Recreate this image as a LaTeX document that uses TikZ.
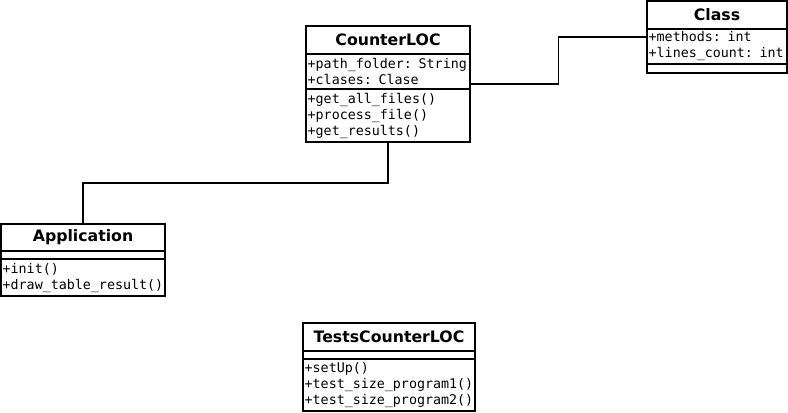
\documentclass[tikz,border=0pt]{standalone}
\usepackage{fontspec}
\setmainfont{DejaVu Sans}
\setmonofont{DejaVu Sans Mono}
\usetikzlibrary{calc}

\tikzset{
  classframe/.style={anchor=north west, inner sep=0pt, outer sep=0pt},
  classpart/.style={draw, line width=1.5pt, anchor=north west, inner sep=0pt, outer sep=0pt},
  classname/.style={classpart, font=\bfseries\fontsize{11.8}{14}\selectfont},
  members/.style={classpart, font=\ttfamily\fontsize{10}{12}\selectfont, align=left, inner xsep=1.25pt},
  link/.style={draw, line width=1.2pt},
}

\begin{document}
\begin{tikzpicture}[x=0.75pt, y=-0.75pt]
\fill[white] (0,0) rectangle (788,412);
\useasboundingbox (0,0) rectangle (788,412);

% CounterLOC
\node[classframe, minimum width=123pt, minimum height=87pt] (counter) at (306,26) {};
\node[classname, minimum width=123pt, minimum height=21pt] (counter-name) at (counter.north west) {CounterLOC};
\node[members, text width=120.5pt, minimum height=26.25pt] (counter-attr) at (counter-name.south west) {+path\_folder: String\\+clases: Clase};
\node[members, text width=120.5pt, minimum height=39.75pt] (counter-meth) at (counter-attr.south west) {+get\_all\_files()\\+process\_file()\\+get\_results()};

% Class
\node[classframe, minimum width=105pt, minimum height=54pt] (class) at (647,1) {};
\node[classname, minimum width=105pt, minimum height=21pt] (class-name) at (class.north west) {Class};
\node[members, text width=102.5pt, minimum height=26.25pt] (class-attr) at (class-name.south west) {+methods: int\\+lines\_count: int};
\node[members, text width=102.5pt, minimum height=6.75pt] (class-meth) at (class-attr.south west) {};

% Application
\node[classframe, minimum width=123pt, minimum height=54pt] (app) at (1,224) {};
\node[classname, minimum width=123pt, minimum height=20.25pt] (app-name) at (app.north west) {Application};
\node[members, text width=120.5pt, minimum height=6pt] (app-attr) at (app-name.south west) {};
\node[members, text width=120.5pt, minimum height=27.75pt] (app-meth) at (app-attr.south west) {+init()\\+draw\_table\_result()};

% TestsCounterLOC
\node[classframe, minimum width=129pt, minimum height=66pt] (tests) at (303,323) {};
\node[classname, minimum width=129pt, minimum height=21pt] (tests-name) at (tests.north west) {TestsCounterLOC};
\node[members, text width=126.5pt, minimum height=6pt] (tests-attr) at (tests-name.south west) {};
\node[members, text width=126.5pt, minimum height=39pt] (tests-meth) at (tests-attr.south west) {+setUp()\\+test\_size\_program1()\\+test\_size\_program2()};

% links
\draw[link] (counter.east) -| ($(counter.east)!0.5!(class.west)$) |- (class.west);
\draw[link] (counter.south) |- ($(counter.south)!0.5!(app.north)$) -| (app.north);
\end{tikzpicture}
\end{document}
